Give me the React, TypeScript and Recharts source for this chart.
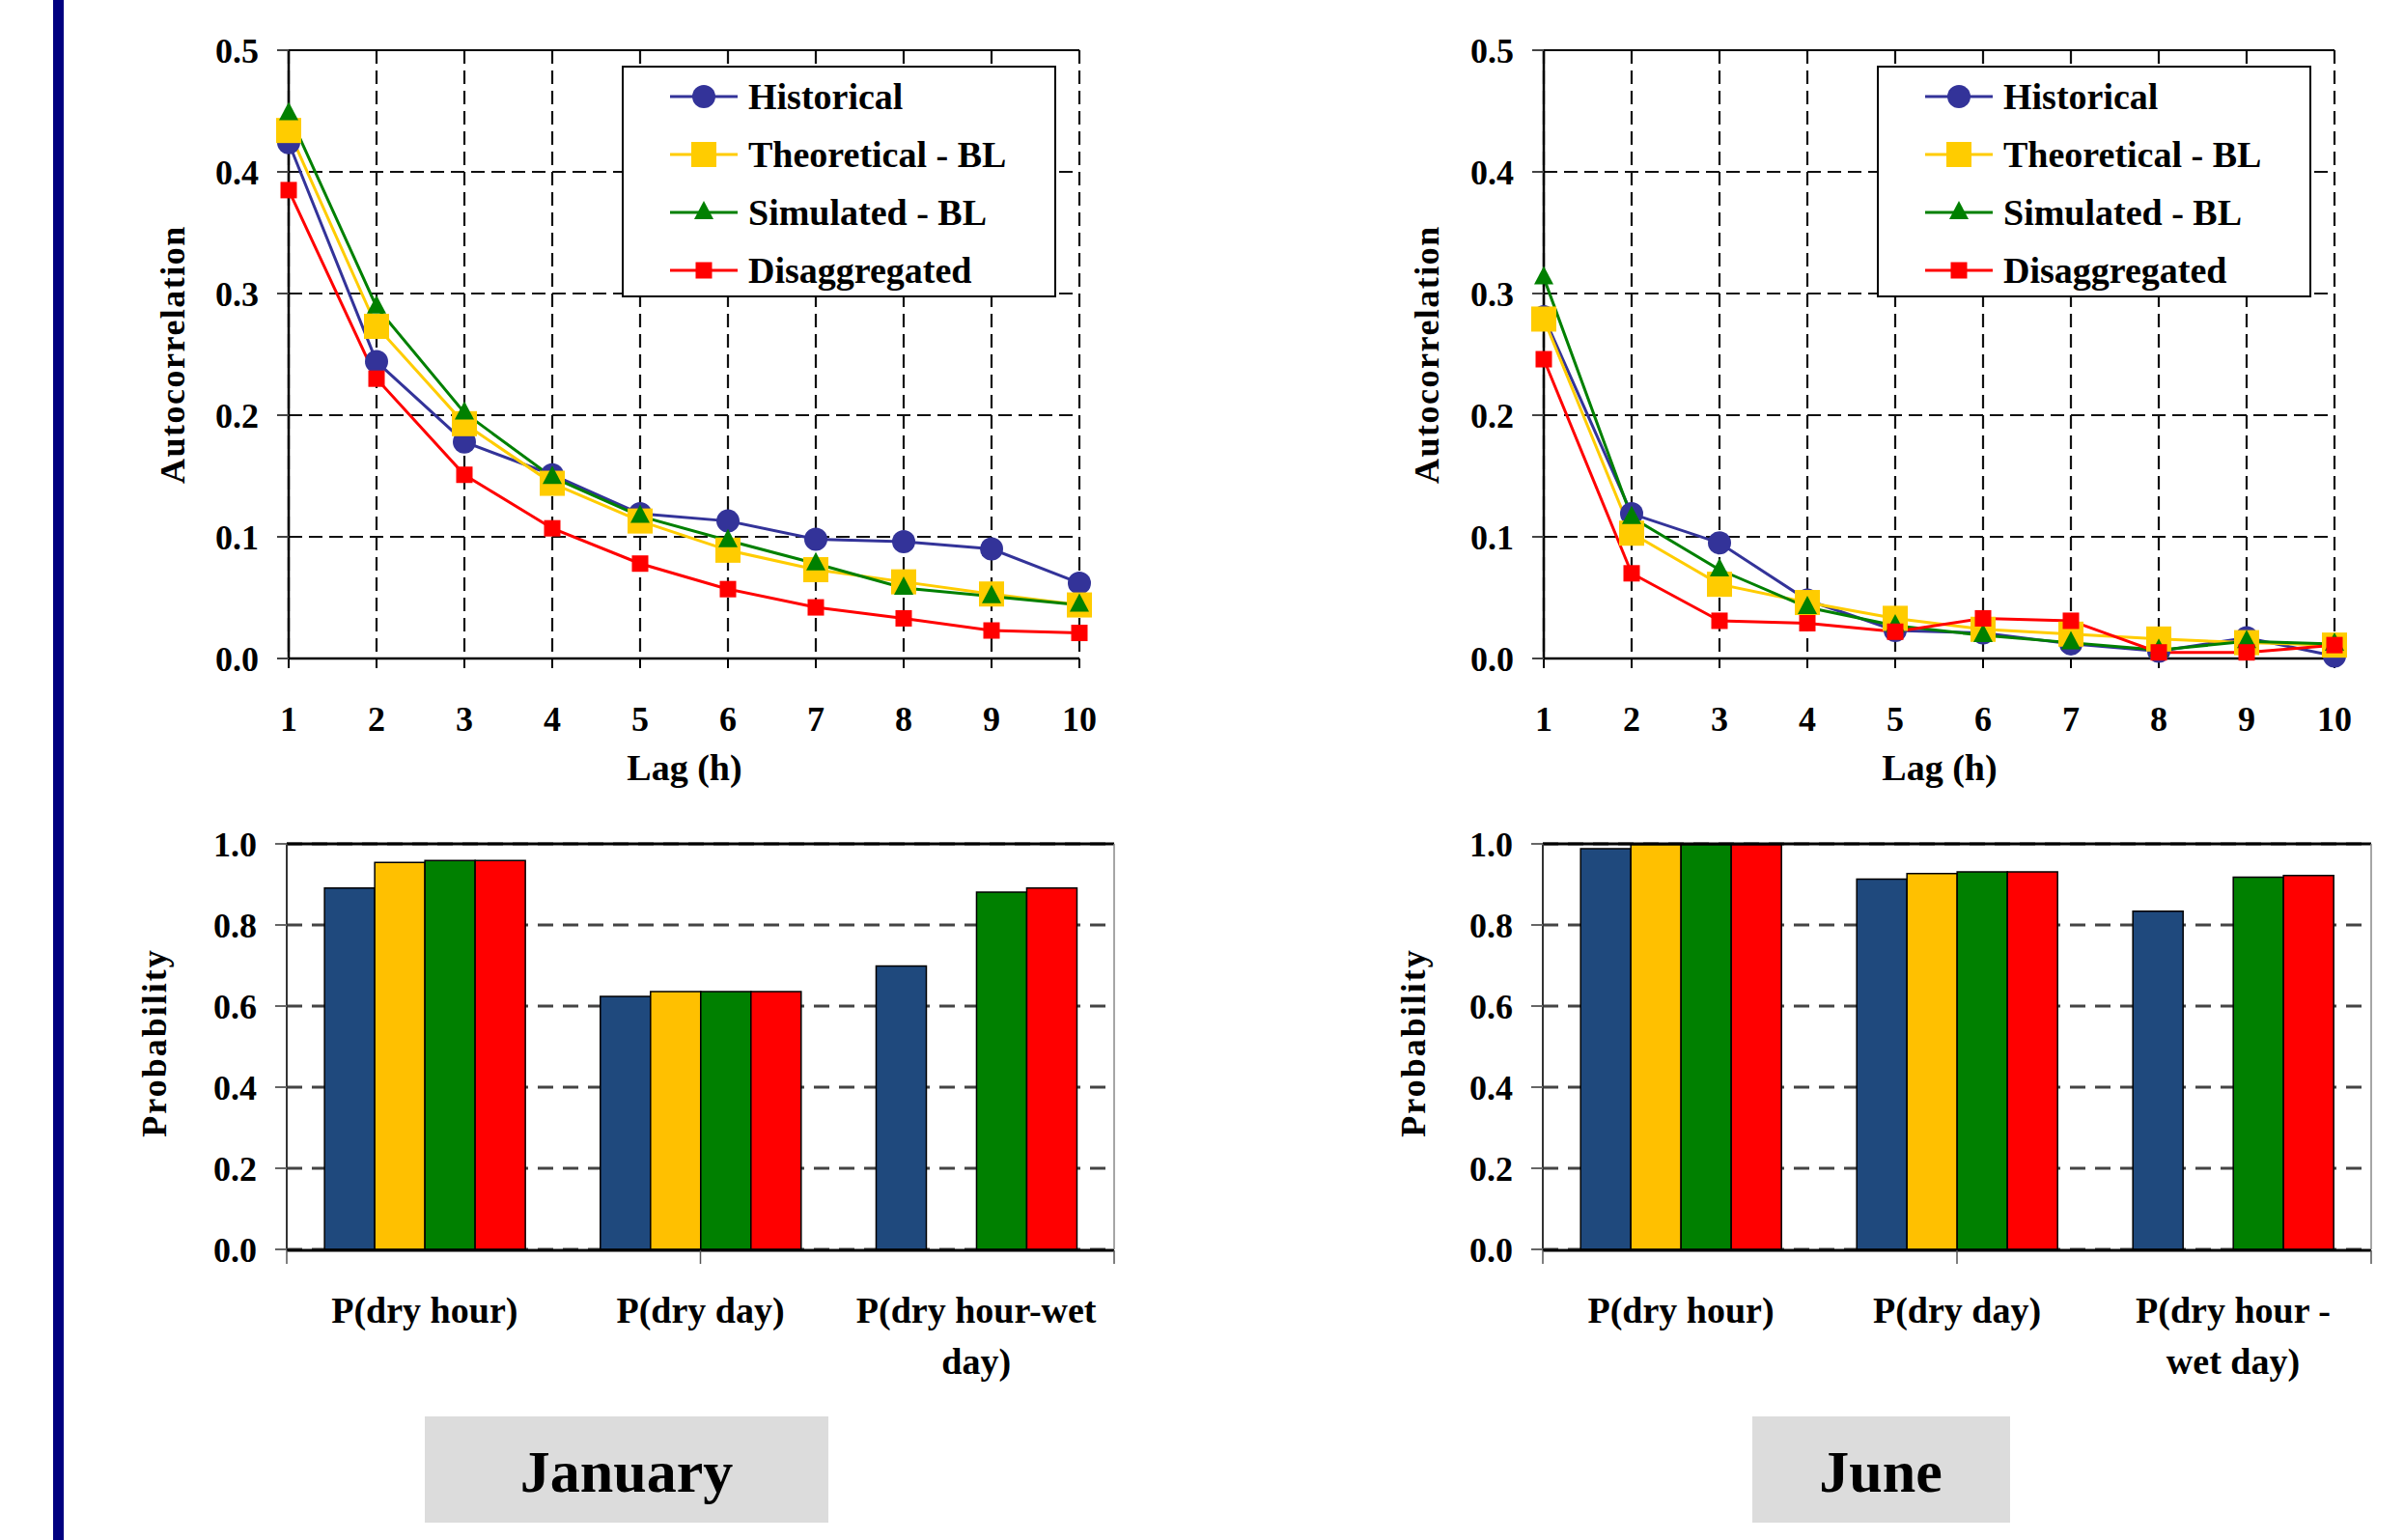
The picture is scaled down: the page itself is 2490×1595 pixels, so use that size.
import React from 'react';
import { LineChart, Line, BarChart, Bar, XAxis, YAxis, CartesianGrid, Legend, ReferenceLine } from 'recharts';

const FONT = "'Liberation Serif', 'Times New Roman', serif";

// autocorrelation, lag 1..10
const lags = [1, 2, 3, 4, 5, 6, 7, 8, 9, 10];
const janHist = [0.424, 0.244, 0.178, 0.151, 0.119, 0.113, 0.098, 0.096, 0.09, 0.062];
const janTheo = [0.434, 0.273, 0.193, 0.144, 0.113, 0.089, 0.073, 0.063, 0.053, 0.044];
const janSim = [0.448, 0.289, 0.202, 0.149, 0.117, 0.097, 0.078, 0.058, 0.051, 0.044];
const janDis = [0.385, 0.23, 0.151, 0.107, 0.078, 0.057, 0.042, 0.033, 0.023, 0.021];

const junHist = [0.281, 0.119, 0.095, 0.048, 0.023, 0.021, 0.012, 0.006, 0.017, 0.002];
const junTheo = [0.279, 0.103, 0.061, 0.046, 0.033, 0.024, 0.02, 0.016, 0.013, 0.011];
const junSim = [0.313, 0.116, 0.073, 0.042, 0.027, 0.019, 0.013, 0.007, 0.014, 0.012];
const junDis = [0.246, 0.07, 0.031, 0.029, 0.022, 0.033, 0.031, 0.005, 0.005, 0.011];

// probabilities
const janCats = ['P(dry hour)', 'P(dry day)', 'P(dry hour-wet\nday)'];
const janPHist = [0.891, 0.624, 0.699];
const janPTheo = [0.954, 0.636, null];
const janPSim = [0.959, 0.636, 0.881];
const janPDis = [0.959, 0.636, 0.891];

const junCats = ['P(dry hour)', 'P(dry day)', 'P(dry hour -\nwet day)'];
const junPHist = [0.988, 0.913, 0.834];
const junPTheo = [0.998, 0.927, null];
const junPSim = [0.998, 0.931, 0.918];
const junPDis = [0.998, 0.931, 0.922];

const autoTicks = [0, 0.1, 0.2, 0.3, 0.4, 0.5];
const probTicks = [0, 0.2, 0.4, 0.6, 0.8, 1.0];
const edgeTicks = [0, 1, 2, 3];

const seriesKeys = ['hist', 'theo', 'sim', 'dis'];
const seriesNames = ['Historical', 'Theoretical - BL', 'Simulated - BL', 'Disaggregated'];
const lineColors = ['#333399', '#FFCC00', '#008000', '#FF0000'];
const barColors = ['#1F497D', '#FFC000', '#008000', '#FF0000'];
const markerKinds = ['circle', 'bigSquare', 'triangle', 'square'];

const buildLineData = (h, t, s, d) =>
  lags.map((lag, i) => ({ lag, hist: h[i], theo: t[i], sim: s[i], dis: d[i] }));

const buildBarData = (cats, h, t, s, d) =>
  cats.map((cat, i) => ({ cat, hist: h[i], theo: t[i], sim: s[i], dis: d[i] }));

function Marker({ kind, cx, cy, color }) {
  if (kind === 'circle') return <circle cx={cx} cy={cy} r={12} fill={color} />;
  if (kind === 'bigSquare') return <rect x={cx - 13} y={cy - 13} width={26} height={26} fill={color} />;
  if (kind === 'triangle')
    return <polygon points={`${cx},${cy - 12} ${cx - 10},${cy + 7} ${cx + 10},${cy + 7}`} fill={color} />;
  return <rect x={cx - 8.5} y={cy - 8.5} width={17} height={17} fill={color} />;
}

const dotFor = (i) => (p) => (
  <Marker key={`${seriesKeys[i]}-${p.index}`} kind={markerKinds[i]} cx={p.cx} cy={p.cy} color={lineColors[i]} />
);

function LegendBox({ payload }) {
  // keep the series order, not the alphabetical one
  const items = [...(payload || [])].sort(
    (a, b) => seriesKeys.indexOf(a.dataKey) - seriesKeys.indexOf(b.dataKey)
  );
  return (
    <div
      style={{
        width: 450,
        height: 240,
        boxSizing: 'border-box',
        border: '2.5px solid #000',
        background: '#fff',
        position: 'relative',
      }}
    >
      {items.map((entry, i) => {
        const idx = seriesKeys.indexOf(entry.dataKey);
        return (
          <div
            key={entry.value}
            style={{ position: 'absolute', left: 48, top: 30 + i * 60 - 20, height: 40, display: 'flex', alignItems: 'center' }}
          >
            <svg width={72} height={40}>
              <line x1={0} y1={20} x2={70} y2={20} stroke={lineColors[idx]} strokeWidth={3} />
              <Marker kind={markerKinds[idx]} cx={35} cy={20} color={lineColors[idx]} />
            </svg>
            <span style={{ marginLeft: 9, fontFamily: FONT, fontWeight: 700, fontSize: 38, color: '#000', whiteSpace: 'nowrap' }}>
              {entry.value}
            </span>
          </div>
        );
      })}
    </div>
  );
}

function LagTick({ x, y, payload }) {
  return (
    <text x={x} y={y + 65} textAnchor="middle" fontSize={36} fontWeight={700} fontFamily={FONT} fill="#000">
      {payload.value}
    </text>
  );
}

function CatTick({ x, y, payload }) {
  const lines = String(payload.value).split('\n');
  return (
    <g>
      {lines.map((l, i) => (
        <text key={i} x={x} y={y + 76 + i * 53} textAnchor="middle" fontSize={38} fontWeight={700} fontFamily={FONT} fill="#000">
          {l}
        </text>
      ))}
    </g>
  );
}

// tick marks only, no label
const EmptyTick = () => <g />;

const yTick = { fill: '#000', fontSize: 36, fontWeight: 700, fontFamily: FONT };

function AutoChart({ data, left }) {
  return (
    <div style={{ position: 'absolute', left, top: 0 }}>
      <LineChart width={1200} height={820} data={data} margin={{ top: 52, right: 82, bottom: 98, left: 199 }}>
        <CartesianGrid stroke="#111" strokeWidth={2.2} strokeDasharray="14 7" />
        <XAxis
          dataKey="lag"
          type="number"
          domain={[1, 10]}
          ticks={lags}
          interval={0}
          height={40}
          tickSize={10}
          tickMargin={0}
          axisLine={{ stroke: '#000', strokeWidth: 2.5 }}
          tickLine={{ stroke: '#000', strokeWidth: 2 }}
          tick={<LagTick />}
        />
        <YAxis
          domain={[0, 0.5]}
          ticks={autoTicks}
          interval={0}
          width={100}
          tickSize={12}
          tickMargin={19}
          tickFormatter={(v) => Number(v).toFixed(1)}
          axisLine={{ stroke: '#000', strokeWidth: 2.5 }}
          tickLine={{ stroke: '#444', strokeWidth: 2 }}
          tick={yTick}
        />
        <ReferenceLine y={0.5} stroke="#000" strokeWidth={2} />
        {seriesKeys.map((k, i) => (
          <Line
            key={k}
            type="linear"
            dataKey={k}
            name={seriesNames[i]}
            stroke={lineColors[i]}
            strokeWidth={3}
            dot={dotFor(i)}
            activeDot={false}
            isAnimationActive={false}
          />
        ))}
        <Legend
          layout="vertical"
          align="center"
          verticalAlign="middle"
          itemSorter={null}
          wrapperStyle={{ left: 644, top: 68, width: 450, height: 240 }}
          content={<LegendBox />}
        />
      </LineChart>
    </div>
  );
}

function ProbChart({ data, left, width, marginLeft, marginRight }) {
  return (
    <div style={{ position: 'absolute', left, top: 820 }}>
      <BarChart
        width={width}
        height={775}
        data={data}
        margin={{ top: 54, right: marginRight, bottom: 299, left: marginLeft }}
        barCategoryGap="13.7%"
        barGap={0}
      >
        <CartesianGrid vertical={false} stroke="#444" strokeWidth={3} strokeDasharray="16 10" />
        <XAxis
          xAxisId="edges"
          type="number"
          domain={[0, 3]}
          allowDataOverflow
          ticks={edgeTicks}
          interval={0}
          height={1}
          tick={<EmptyTick />}
          tickSize={14}
          axisLine={{ stroke: '#000', strokeWidth: 3 }}
          tickLine={{ stroke: '#555', strokeWidth: 1.5 }}
        />
        <XAxis dataKey="cat" height={1} tickSize={0} tickMargin={0} interval={0} axisLine={false} tickLine={false} tick={<CatTick />} />
        <YAxis
          domain={[0, 1]}
          ticks={probTicks}
          interval={0}
          width={100}
          tickSize={12}
          tickMargin={19}
          tickFormatter={(v) => Number(v).toFixed(1)}
          axisLine={{ stroke: '#333', strokeWidth: 2 }}
          tickLine={{ stroke: '#666', strokeWidth: 2 }}
          tick={yTick}
        />
        <YAxis yAxisId="right" orientation="right" domain={[0, 1]} width={1} tick={false} tickLine={false} axisLine={{ stroke: '#888', strokeWidth: 1.5 }} />
        <ReferenceLine y={1} stroke="#000" strokeWidth={3} />
        {seriesKeys.map((k, i) => (
          <Bar key={k} dataKey={k} name={seriesNames[i]} fill={barColors[i]} stroke="#000" strokeWidth={1.5} isAnimationActive={false} />
        ))}
      </BarChart>
    </div>
  );
}

const titleStyle = { fontFamily: FONT, fontWeight: 700, fill: '#000' };

export default function App() {
  const janLine = buildLineData(janHist, janTheo, janSim, janDis);
  const junLine = buildLineData(junHist, junTheo, junSim, junDis);
  const janBar = buildBarData(janCats, janPHist, janPTheo, janPSim, janPDis);
  const junBar = buildBarData(junCats, junPHist, junPTheo, junPSim, junPDis);

  return (
    <div style={{ position: 'absolute', left: 0, top: 0, width: 2490, height: 1595, background: '#fff', overflow: 'hidden' }}>
      <svg width={2490} height={1595} style={{ position: 'absolute', left: 0, top: 0 }}>
        <rect x={55} y={0} width={11} height={1595} fill="#000080" />
        <text x={179} y={367} transform="rotate(-90 179 367)" textAnchor="middle" dominantBaseline="central" fontSize={36} letterSpacing={1.5} style={titleStyle}>
          Autocorrelation
        </text>
        <text x={1478} y={367} transform="rotate(-90 1478 367)" textAnchor="middle" dominantBaseline="central" fontSize={36} letterSpacing={1.5} style={titleStyle}>
          Autocorrelation
        </text>
        <text x={709} y={808} textAnchor="middle" fontSize={38} style={titleStyle}>Lag (h)</text>
        <text x={2009} y={808} textAnchor="middle" fontSize={38} style={titleStyle}>Lag (h)</text>
        <text x={160} y={1080} transform="rotate(-90 160 1080)" textAnchor="middle" dominantBaseline="central" fontSize={36} letterSpacing={2} style={titleStyle}>
          Probability
        </text>
        <text x={1464} y={1080} transform="rotate(-90 1464 1080)" textAnchor="middle" dominantBaseline="central" fontSize={36} letterSpacing={2} style={titleStyle}>
          Probability
        </text>
        <rect x={440} y={1467} width={418} height={110} fill="#DCDCDC" />
        <text x={649} y={1545} textAnchor="middle" fontSize={62} style={titleStyle}>January</text>
        <rect x={1815} y={1467} width={267} height={110} fill="#DCDCDC" />
        <text x={1948} y={1545} textAnchor="middle" fontSize={62} style={titleStyle}>June</text>
      </svg>
      <AutoChart data={janLine} left={0} />
      <AutoChart data={junLine} left={1300} />
      <ProbChart data={janBar} left={0} width={1200} marginLeft={197} marginRight={45} />
      <ProbChart data={junBar} left={1300} width={1190} marginLeft={198} marginRight={33} />
    </div>
  );
}
